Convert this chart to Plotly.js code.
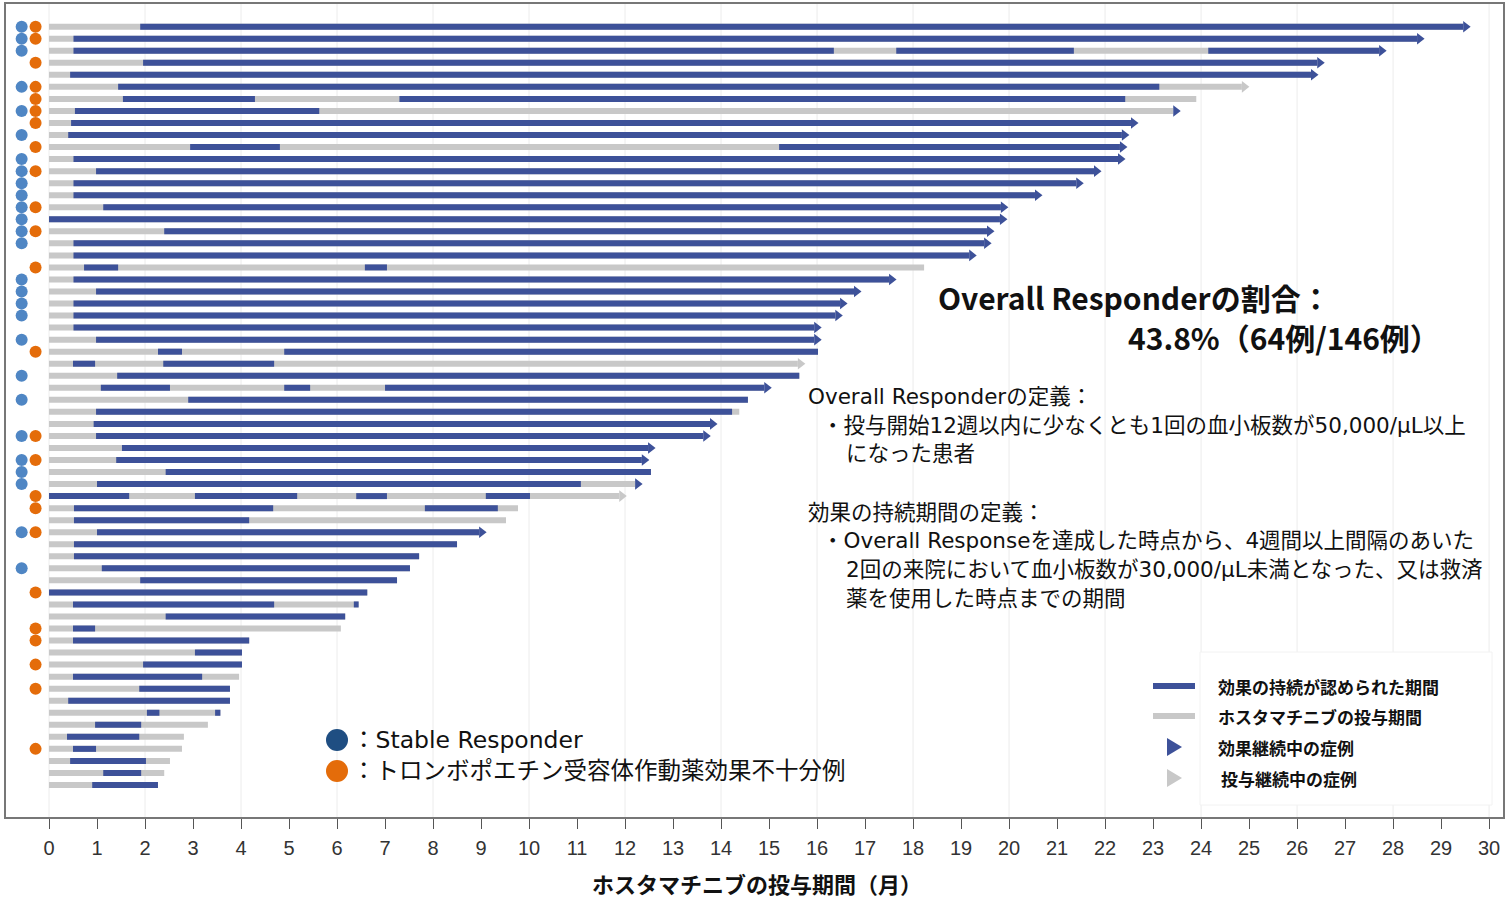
<!DOCTYPE html>
<html><head><meta charset="utf-8">
<script src="https://cdn.plot.ly/plotly-3.0.1.min.js"></script>
<style>html,body{margin:0;padding:0;background:#fff;}#chart{width:1509px;height:901px;}</style>
</head><body><div id="chart"></div>
<script>
// ---------------- DATA ----------------
const patients = [1,2,3,4,5,6,7,8,9,10,11,12,13,14,15,16,17,18,19,20,21,22,23,24,25,26,27,28,29,30,31,32,
  33,34,35,36,37,38,39,40,41,42,43,44,45,46,47,48,49,50,51,52,53,54,55,56,57,58,59,60,61,62,63,64];

// total fostamatinib treatment duration (months)
const treatEnd = [29.46,28.5,27.71,26.42,26.29,24.85,23.9,23.42,22.54,22.35,22.31,22.27,21.77,21.4,20.54,19.83,
  19.81,19.54,19.48,19.17,18.23,17.5,16.77,16.48,16.38,15.94,15.94,16.02,15.6,15.63,14.9,14.56,
  14.38,13.77,13.63,12.48,12.35,12.54,12.21,11.88,9.77,9.52,8.96,8.5,7.71,7.52,7.25,6.63,
  6.45,6.17,6.08,4.17,4.02,4.02,3.96,3.77,3.77,3.57,3.31,2.81,2.77,2.52,2.4,2.27];

// periods of sustained response [start, end] (months)
const responsePeriods = [
  [[1.9,29.46]], [[0.51,28.5]], [[0.51,16.35],[17.65,21.35],[24.15,27.71]], [[1.96,26.42]],
  [[0.44,26.29]], [[1.44,23.13]], [[1.54,4.29],[7.3,22.42]], [[0.54,5.63]],
  [[0.46,22.54]], [[0.4,22.35]], [[2.94,4.81],[15.21,22.31]], [[0.51,22.27]],
  [[0.98,21.77]], [[0.51,21.4]], [[0.51,20.54]], [[1.13,19.83]],
  [[0,19.81]], [[2.4,19.54]], [[0.51,19.48]], [[0.51,19.17]],
  [[0.73,1.44],[6.58,7.04]], [[0.51,17.5]], [[0.98,16.77]], [[0.51,16.48]],
  [[0.51,16.38]], [[0.51,15.94]], [[0.98,15.94]], [[2.27,2.77],[4.9,16.02]],
  [[0.5,0.96],[2.38,4.69]], [[1.42,15.63]], [[1.08,2.52],[4.9,5.44],[7.0,14.9]], [[2.9,14.56]],
  [[0.98,14.23]], [[0.93,13.77]], [[0.98,13.63]], [[1.52,12.48]],
  [[1.4,12.35]], [[2.43,12.54]], [[1.0,11.08]], [[0,1.67],[3.04,5.17],[6.4,7.04],[9.1,10.02]],
  [[0.52,4.67],[7.83,9.35]], [[0.52,4.17]], [[1.0,8.96]], [[0.52,8.5]],
  [[0.52,7.71]], [[1.1,7.52]], [[1.9,7.25]], [[0,6.63]],
  [[0.5,4.69],[6.35,6.45]], [[2.43,6.17]], [[0.5,0.96]], [[0.5,4.17]],
  [[3.04,4.02]], [[1.96,4.02]], [[0.5,3.19]], [[1.88,3.77]],
  [[0.4,3.77]], [[2.04,2.3],[3.46,3.57]], [[0.96,1.92]], [[0.375,1.88]],
  [[0.5,0.98]], [[0.44,2.02]], [[1.13,1.92]], [[0.9,2.27]]
];

// ongoing status: 'R' = response ongoing, 'T' = treatment ongoing, '' = ended
const ongoing = ['R','R','R','R','R','T','','R','R','R','R','R','R','R','R','R',
  'R','R','R','R','','R','R','R','R','R','R','','T','','R','',
  '','R','R','R','R','','R','T','','','R','','','','','',
  '','','','','','','','','','','','','','','',''];

// 1 = Stable Responder
const stableResponder = [1,1,1,0,0,1,0,1,0,1,0,1,1,1,1,1,1,1,1,0,0,1,1,1,1,0,1,0,0,1,0,1,
  0,0,1,0,1,1,1,0,0,0,1,0,0,1,0,0,0,0,0,0,0,0,0,0,0,0,0,0,0,0,0,0];
// 1 = TPO-RA insufficient response
const tpoInsufficient = [1,1,0,1,0,1,1,1,1,0,1,0,1,0,0,1,0,1,0,0,1,0,0,0,0,0,0,1,0,0,0,0,
  0,0,1,0,1,0,0,1,1,0,1,0,0,0,0,1,0,0,1,1,0,1,0,1,0,0,0,0,1,0,0,0];

const tickLabels = ['0','1','2','3','4','5','6','7','8','9','10','11','12','13','14','15',
  '16','17','18','19','20','21','22','23','24','25','26','27','28','29','30'];

// ---------------- STYLE / LAYOUT ----------------
const BLUE = '#3d5199', GREY = '#c8c8c8';
const W = 1509, H = 901, ML = 6, MR = 6, MT = 4, MB = 84;
const PW = W - ML - MR, PH = H - MT - MB;
const XR = [-0.896, 30.29], YR = [66.66, -0.885];
const monthPerPx = (XR[1] - XR[0]) / PW;
const px = v => (v - ML) / PW;          // pixel -> paper x
const py = v => (H - MB - v) / PH;      // pixel -> paper y
const STABLE_COL = -0.57, TPO_COL = -0.28;

const gx = [], gy = [], bx = [], by = [];
patients.forEach((p, i) => {
  gx.push(0, treatEnd[i], null); gy.push(p, p, null);
  responsePeriods[i].forEach(s => { bx.push(s[0], s[1], null); by.push(p, p, null); });
});
const arrowOff = 2.5 * monthPerPx;
const ra = patients.map((p,i)=>ongoing[i]==='R'?i:-1).filter(i=>i>=0);
const ta = patients.map((p,i)=>ongoing[i]==='T'?i:-1).filter(i=>i>=0);
const sr = patients.map((p,i)=>stableResponder[i]?i:-1).filter(i=>i>=0);
const tp = patients.map((p,i)=>tpoInsufficient[i]?i:-1).filter(i=>i>=0);

const traces = [
  {type:'scatter', mode:'lines', x:gx, y:gy, line:{color:GREY, width:6}, hoverinfo:'skip'},
  {type:'scatter', mode:'lines', x:bx, y:by, line:{color:BLUE, width:6}, hoverinfo:'skip'},
  {type:'scatter', mode:'markers', x:ta.map(i=>treatEnd[i]+arrowOff), y:ta.map(i=>patients[i]),
    marker:{symbol:'triangle-right', size:10, color:GREY}},
  {type:'scatter', mode:'markers', x:ra.map(i=>treatEnd[i]+arrowOff), y:ra.map(i=>patients[i]),
    marker:{symbol:'triangle-right', size:10, color:BLUE}},
  {type:'scatter', mode:'markers', x:sr.map(()=>STABLE_COL), y:sr.map(i=>patients[i]),
    marker:{symbol:'circle', size:12, color:'#4f86c4'}},
  {type:'scatter', mode:'markers', x:tp.map(()=>TPO_COL), y:tp.map(i=>patients[i]),
    marker:{symbol:'circle', size:12, color:'#e46c0a'}}
];

const shapes = [];
for (let m = 0; m <= 30; m += 2) {
  shapes.push({type:'line', layer:'below', xref:'x', yref:'paper', x0:m, x1:m, y0:0, y1:1,
    line:{color:'#ececec', width:1}});
}
// legend box
shapes.push({type:'rect', layer:'below', xref:'paper', yref:'paper', x0:px(1200), x1:px(1492), y0:py(805), y1:py(652),
  fillcolor:'#ffffff', line:{color:'#f2f2f2', width:1}});
// legend symbols
shapes.push({type:'line', xref:'paper', yref:'paper', x0:px(1153), x1:px(1195), y0:py(686), y1:py(686), line:{color:BLUE, width:6}});
shapes.push({type:'line', xref:'paper', yref:'paper', x0:px(1153), x1:px(1195), y0:py(716), y1:py(716), line:{color:GREY, width:6}});
shapes.push({type:'path', xref:'paper', yref:'paper', fillcolor:BLUE, line:{width:0},
  path:`M${px(1167)},${py(738)} L${px(1182)},${py(747)} L${px(1167)},${py(756)} Z`});
shapes.push({type:'path', xref:'paper', yref:'paper', fillcolor:GREY, line:{width:0},
  path:`M${px(1167)},${py(769)} L${px(1182)},${py(778)} L${px(1167)},${py(787)} Z`});
// legend circles lower-left
shapes.push({type:'circle', xref:'paper', yref:'paper', x0:px(326), x1:px(348), y0:py(751), y1:py(729), fillcolor:'#1f4e82', line:{width:0}});
shapes.push({type:'circle', xref:'paper', yref:'paper', x0:px(326), x1:px(348), y0:py(782), y1:py(760), fillcolor:'#e46c0a', line:{width:0}});

const JP = '"Noto Sans CJK JP", "Noto Sans", sans-serif';
const MIX = '"DejaVu Sans", "Noto Sans CJK JP", sans-serif';
function ann(text, x, y, size, weight, anchor, fam) {
  return {text:text, x:px(x), y:py(y), xref:'paper', yref:'paper', showarrow:false,
    xanchor:anchor||'left', yanchor:'middle', font:{family:fam||JP, size:size, color:'#111', weight:weight||400}};
}
const annotations = [
  ann('Overall Responderの割合：', 936, 297, 30, 700),
  ann('43.8%（64例/146例）', 1126, 337, 30, 700),
  ann('Overall Responderの定義：', 806, 396, 21.5, 400, 'left', MIX),
  ann('・投与開始12週以内に少なくとも1回の血小板数が50,000/μL以上', 820, 425, 21.5, 400, 'left', MIX),
  ann('になった患者', 844, 453, 21.5, 400, 'left', MIX),
  ann('効果の持続期間の定義：', 806, 512, 21.5, 400, 'left', MIX),
  ann('・Overall Responseを達成した時点から、4週間以上間隔のあいた', 820, 540, 21.5, 400, 'left', MIX),
  ann('2回の来院において血小板数が30,000/μL未満となった、又は救済', 844, 569, 21.5, 400, 'left', MIX),
  ann('薬を使用した時点までの期間', 844, 598, 21.5, 400, 'left', MIX),
  ann('：Stable Responder', 350, 740, 23.5, 400, 'left', MIX),
  ann('：トロンボポエチン受容体作動薬効果不十分例', 350, 771, 23.5, 400, 'left', MIX),
  ann('効果の持続が認められた期間', 1216, 686, 17, 700),
  ann('ホスタマチニブの投与期間', 1216, 716, 17, 700),
  ann('効果継続中の症例', 1216, 747, 17, 700),
  ann('投与継続中の症例', 1219, 778, 17, 700),
  ann('ホスタマチニブの投与期間（月）', 757, 883, 22, 700, 'center')
];

const layout = {
  width:W, height:H, margin:{l:ML, r:MR, t:MT, b:MB},
  paper_bgcolor:'#fff', plot_bgcolor:'#fff', showlegend:false,
  xaxis:{range:XR, tickmode:'array', tickvals:tickLabels.map(Number), ticktext:tickLabels,
    showgrid:false, zeroline:false, showline:true, mirror:true, linecolor:'#777', linewidth:2,
    ticks:'outside', ticklen:10, tickcolor:'#555', ticklabelstandoff:2,
    tickfont:{family:'"Liberation Sans Narrow", "Liberation Sans", Arial, sans-serif', size:20, color:'#333'}},
  yaxis:{range:YR, showgrid:false, zeroline:false, showticklabels:false, ticks:'',
    showline:true, mirror:true, linecolor:'#777', linewidth:2},
  shapes:shapes, annotations:annotations
};
Plotly.newPlot('chart', traces, layout, {staticPlot:true});
</script></body></html>
